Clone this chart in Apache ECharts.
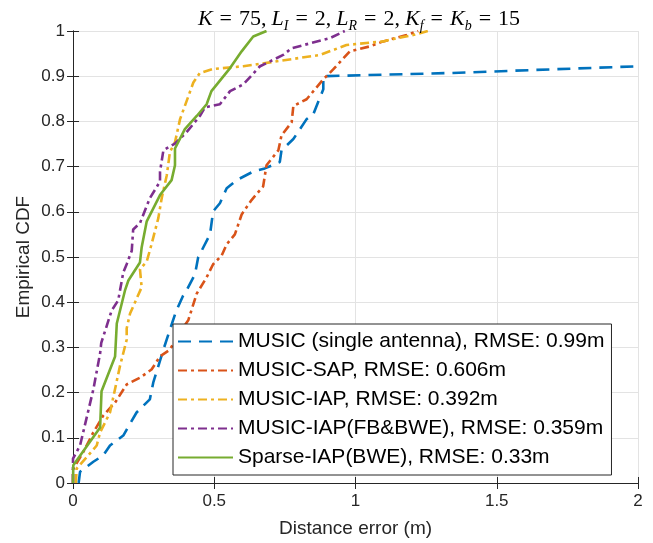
<!DOCTYPE html>
<html lang="en">
<head>
	<meta charset="UTF-8">
	<title>Empirical CDF</title>
	<script src="https://cdn.jsdelivr.net/npm/echarts@6/dist/echarts.min.js"></script>
	<style>
		html, body { margin: 0; padding: 0; background: #fff; }
	</style>
</head>
<body>
	<div id="chart" style="width: 653px;height: 543px;"></div>

	<script type="text/javascript">
		// 各曲线数据 [距离误差(m), CDF]
		var musicSingle = [[0.02,0],[0.025,0.025],[0.072,0.047],[0.107,0.061],[0.131,0.083],[0.178,0.105],[0.225,0.156],[0.272,0.185],[0.284,0.222],[0.32,0.295],[0.343,0.339],[0.365,0.38],[0.39,0.415],[0.402,0.426],[0.432,0.462],[0.443,0.499],[0.485,0.55],[0.496,0.601],[0.52,0.619],[0.544,0.652],[0.579,0.67],[0.638,0.689],[0.679,0.696],[0.732,0.71],[0.738,0.736],[0.78,0.761],[0.827,0.805],[0.85,0.815],[0.886,0.871],[0.886,0.9],[1.334,0.907],[2.0,0.922]];
		var musicSap = [[0,0],[0,0.03],[0.036,0.068],[0.072,0.112],[0.107,0.149],[0.149,0.178],[0.19,0.218],[0.237,0.233],[0.278,0.251],[0.308,0.28],[0.343,0.295],[0.375,0.33],[0.408,0.36],[0.438,0.419],[0.473,0.455],[0.496,0.484],[0.526,0.503],[0.544,0.528],[0.573,0.55],[0.597,0.594],[0.632,0.626],[0.673,0.656],[0.685,0.703],[0.727,0.736],[0.738,0.769],[0.774,0.798],[0.78,0.834],[0.827,0.849],[0.886,0.893],[0.921,0.915],[0.98,0.955],[1.051,0.966],[1.098,0.977],[1.181,0.991],[1.222,1.0]];
		var musicIap = [[0.01,0],[0.013,0.032],[0.054,0.061],[0.084,0.083],[0.096,0.112],[0.131,0.156],[0.166,0.258],[0.19,0.317],[0.19,0.342],[0.202,0.375],[0.243,0.433],[0.237,0.473],[0.261,0.49],[0.278,0.528],[0.302,0.586],[0.314,0.63],[0.332,0.681],[0.343,0.732],[0.361,0.754],[0.379,0.805],[0.426,0.886],[0.449,0.907],[0.496,0.916],[0.603,0.922],[0.874,0.947],[0.968,0.969],[1.098,0.977],[1.145,0.984],[1.204,0.991],[1.257,1.0]];
		var musicIapFb = [[0,0],[0,0.054],[0.025,0.083],[0.072,0.207],[0.096,0.287],[0.1,0.31],[0.137,0.382],[0.16,0.404],[0.178,0.466],[0.19,0.484],[0.208,0.514],[0.213,0.561],[0.237,0.575],[0.272,0.63],[0.308,0.667],[0.308,0.689],[0.32,0.736],[0.361,0.751],[0.402,0.776],[0.449,0.812],[0.467,0.831],[0.52,0.838],[0.556,0.867],[0.603,0.882],[0.662,0.922],[0.744,0.947],[0.774,0.962],[0.909,0.984],[0.962,1.0]];
		var sparseIap = [[0,0],[0.001,0.039],[0.096,0.123],[0.101,0.203],[0.149,0.28],[0.155,0.353],[0.184,0.426],[0.196,0.448],[0.237,0.488],[0.243,0.521],[0.261,0.579],[0.308,0.637],[0.349,0.67],[0.361,0.703],[0.361,0.74],[0.396,0.783],[0.438,0.812],[0.473,0.838],[0.49,0.867],[0.556,0.918],[0.597,0.955],[0.638,0.988],[0.685,1.0]];

		var seriesNames = ['MUSIC (single antenna), RMSE: 0.99m', 'MUSIC-SAP, RMSE: 0.606m', 'MUSIC-IAP, RMSE: 0.392m', 'MUSIC-IAP(FB&BWE), RMSE: 0.359m', 'Sparse-IAP(BWE), RMSE: 0.33m'];
		var seriesColors = ['#0072BD', '#D95319', '#EDB120', '#7E2F8E', '#77AC30'];

		var axisColor = '#262626';
		var gridColor = '#e3e3e3';
		var dashDot = [9, 4, 3, 4];

		function makeLine(idx, data, dash) {
			return {
				name: seriesNames[idx],
				type: 'line',
				data: data,
				symbol: 'none',
				clip: true,
				animation: false,
				lineStyle: { color: seriesColors[idx], width: 2.6, type: dash },
				itemStyle: { color: seriesColors[idx] }
			};
		}

		var serif = 'Liberation Serif';
		var myChart = echarts.init(document.getElementById('chart'));
		myChart.setOption({
			backgroundColor: '#fff',
			title: {
				text: '{i|K}{e|=}{n|75,} {i|L}{s|I}{e|=}{n|2,} {i|L}{s|R}{e|=}{n|2,} {i|K}{s|f}{e|=}{i|K}{s|b}{e|=}{n|15}',
				left: 354,
				textAlign: 'center',
				top: 0,
				textStyle: {
					fontWeight: 'normal',
					rich: {
						i: { fontFamily: serif, fontStyle: 'italic', fontWeight: 'normal', fontSize: 22, color: '#000', lineHeight: 28, verticalAlign: 'middle' },
						n: { fontFamily: serif, fontWeight: 'normal', fontSize: 22, color: '#000', lineHeight: 28, verticalAlign: 'middle' },
						e: { fontFamily: serif, fontWeight: 'normal', fontSize: 22, color: '#000', lineHeight: 28, verticalAlign: 'middle', padding: [0, 7, 0, 7] },
						s: { fontFamily: serif, fontStyle: 'italic', fontWeight: 'normal', fontSize: 14, color: '#000', lineHeight: 28, verticalAlign: 'bottom' }
					}
				}
			},
			legend: {
				orient: 'vertical',
				left: 173,
				top: 324,
				itemWidth: 55,
				itemHeight: 14,
				itemGap: 8,
				padding: [7, 7, 7, 4],
				backgroundColor: '#fff',
				borderColor: axisColor,
				borderWidth: 1,
				borderRadius: 0,
				itemStyle: { opacity: 0 },
				textStyle: { fontFamily: 'Liberation Sans', fontSize: 21, color: '#000', lineHeight: 21 },
				data: seriesNames
			},
			grid: { left: 73, right: 15, top: 31, bottom: 55 },
			xAxis: [{
				type: 'value',
				min: 0,
				max: 2,
				interval: 0.5,
				name: 'Distance error (m)',
				nameLocation: 'middle',
				nameGap: 36,
				nameTextStyle: { fontFamily: 'Liberation Sans', fontSize: 19, color: axisColor },
				axisLine: { show: true, lineStyle: { color: axisColor, width: 1 } },
				axisTick: { show: true, inside: true, length: 6, lineStyle: { color: axisColor } },
				axisLabel: { fontFamily: 'Liberation Sans', fontSize: 17, color: axisColor, margin: 10 },
				splitLine: { show: true, lineStyle: { color: gridColor, width: 1 } }
			}, {
				type: 'value',
				position: 'top',
				min: 0,
				max: 2,
				interval: 0.5,
				axisLine: { show: true, lineStyle: { color: axisColor, width: 1 } },
				axisTick: { show: true, inside: true, length: 6, lineStyle: { color: axisColor } },
				axisLabel: { show: false },
				splitLine: { show: false }
			}],
			yAxis: [{
				type: 'value',
				min: 0,
				max: 1,
				interval: 0.1,
				name: 'Empirical CDF',
				nameLocation: 'middle',
				nameGap: 40,
				nameMoveOverlap: false,
				nameTextStyle: { fontFamily: 'Liberation Sans', fontSize: 19, color: axisColor },
				axisLine: { show: true, lineStyle: { color: axisColor, width: 1 } },
				axisTick: { show: true, inside: true, length: 6, lineStyle: { color: axisColor } },
				axisLabel: {
					fontFamily: 'Liberation Sans', fontSize: 17, color: axisColor, margin: 8,
					formatter: function (v) { return +v.toFixed(1) + ''; }
				},
				splitLine: { show: true, lineStyle: { color: gridColor, width: 1 } }
			}, {
				type: 'value',
				position: 'right',
				min: 0,
				max: 1,
				interval: 0.1,
				axisLine: { show: true, lineStyle: { color: axisColor, width: 1 } },
				axisTick: { show: true, inside: true, length: 6, lineStyle: { color: axisColor } },
				axisLabel: { show: false },
				splitLine: { show: false }
			}],
			series: [
				makeLine(0, musicSingle, [13, 8]),
				makeLine(1, musicSap, dashDot),
				makeLine(2, musicIap, dashDot),
				makeLine(3, musicIapFb, dashDot),
				makeLine(4, sparseIap, 'solid')
			]
		});
	</script>
</body>
</html>
